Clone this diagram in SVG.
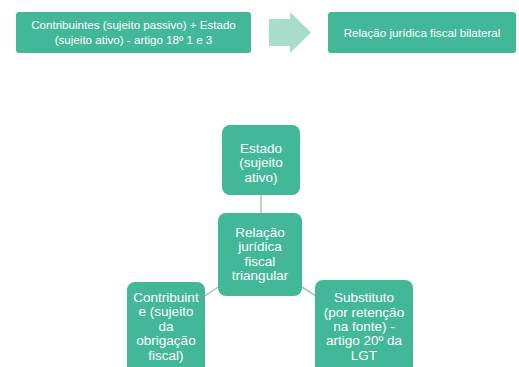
<svg xmlns="http://www.w3.org/2000/svg" width="519" height="367" viewBox="0 0 519 367">
<style>
.box{fill:#42b898;}
.t{fill:#ffffff;font-family:"Liberation Sans",Arial,sans-serif;font-size:13.5px;text-anchor:middle;}
.s{font-size:11.6px;}
.c{stroke:#a9c4b9;stroke-width:1.5;fill:none;}
</style>
<rect width="519" height="367" fill="#ffffff"/>
<g id="top-left">
<rect class="box" x="16" y="12" width="235" height="41" rx="3"/>
<text class="t s" x="133.5" y="29">Contribuintes (sujeito passivo) + Estado</text>
<text class="t s" x="133.5" y="44">(sujeito ativo) - artigo 18º 1 e 3</text>
</g>
<g id="arrow">
<polygon points="269,19 290,19 290,12 311,32.5 290,53 290,46 269,46" fill="#a8dccb"/>
</g>
<g id="top-right">
<rect class="box" x="328" y="12" width="188" height="41" rx="3"/>
<text class="t s" x="422" y="36.5">Relação jurídica fiscal bilateral</text>
</g>
<g id="connectors">
<line class="c" x1="261" y1="195" x2="261" y2="213"/>
<line class="c" x1="218" y1="287" x2="205" y2="296"/>
<line class="c" x1="302" y1="287" x2="316" y2="296"/>
</g>
<g id="estado">
<rect class="box" x="222" y="125" width="78" height="70" rx="8"/>
<text class="t" x="261" y="152.5">Estado</text>
<text class="t" x="261" y="167">(sujeito</text>
<text class="t" x="261" y="181.5">ativo)</text>
</g>
<g id="centro">
<rect class="box" x="218" y="213" width="84" height="83" rx="8"/>
<text class="t" x="260" y="236.5">Relação</text>
<text class="t" x="260" y="251">jurídica</text>
<text class="t" x="260" y="265.5">fiscal</text>
<text class="t" x="260" y="280">triangular</text>
</g>
<g id="contribuinte">
<rect class="box" x="127" y="282" width="78" height="92" rx="8"/>
<text class="t" x="166" y="301.5">Contribuint</text>
<text class="t" x="166" y="316">e (sujeito</text>
<text class="t" x="166" y="330.5">da</text>
<text class="t" x="166" y="345">obrigação</text>
<text class="t" x="166" y="359.5">fiscal)</text>
</g>
<g id="substituto">
<rect class="box" x="315" y="280" width="98" height="94" rx="8"/>
<text class="t" x="364" y="301.5">Substituto</text>
<text class="t" x="364" y="316.5">(por retenção</text>
<text class="t" x="364" y="331">na fonte) -</text>
<text class="t" x="364" y="345">artigo 20º da</text>
<text class="t" x="364" y="359.5">LGT</text>
</g>
</svg>
